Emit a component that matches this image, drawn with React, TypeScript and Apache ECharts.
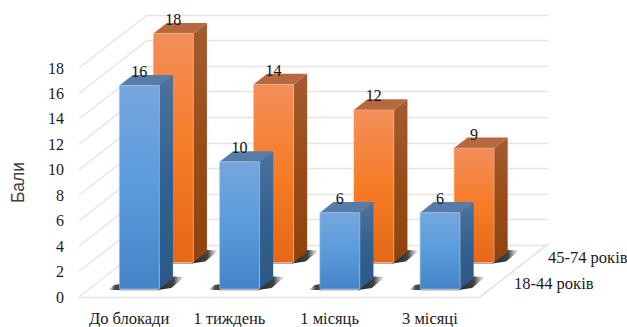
import React, { useEffect, useRef } from "react";
import * as echarts from "echarts";

// Scores by period and age group
const categories = ["До блокади", "1 тиждень", "1 місяць", "3 місяці"];
const groupNames = ["18-44 років", "45-74 років"];
const youngerScores = [16, 10, 6, 6];
const olderScores = [18, 14, 12, 9];
const scoreTicks = [0, 2, 4, 6, 8, 10, 12, 14, 16, 18];
const axisTitle = "Бали";

// Oblique projection: how far the back of the floor sits from its front edge, in pixels
const DEPTH_X = 68;
const DEPTH_Y = 53;
// Bars occupy a fraction of the floor depth; each age group has its own row
const BAR_DEPTH = 0.2;
const ROW_FRONT = [0.15, 0.65];
const BAR_HALF_WIDTH = 20;

const SERIF = "'Liberation Serif', 'Times New Roman', serif";
const GRID_COLOR = "#e4e4e4";

const vgrad = (stops: string[]) =>
  new echarts.graphic.LinearGradient(
    0, 0, 0, 1,
    stops.map((color, i) => ({ offset: i / (stops.length - 1), color }))
  );
const hgrad = (stops: [number, string][]) =>
  new echarts.graphic.LinearGradient(
    0, 0, 1, 0,
    stops.map(([offset, color]) => ({ offset, color }))
  );

const palettes = [
  {
    front: ["#76a7de", "#5a9bdc", "#4484c6"],
    side: ["#4d729e", "#33618f", "#2a5987"],
    top: "#587ca8",
    edge: "rgba(170,205,240,0.55)",
  },
  {
    front: ["#f38e5a", "#f67c26", "#e46817"],
    side: ["#a35c30", "#9a4c17", "#8e430d"],
    top: "#b6683e",
    edge: "rgba(250,190,150,0.5)",
  },
];

const prism = (row: number) => (_params: any, api: any) => {
  const index = api.value(0);
  const value = api.value(1);
  const palette = palettes[row];
  const base = api.coord([index, 0]);
  const peak = api.coord([index, value]);
  const dx = ROW_FRONT[row] * DEPTH_X;
  const dy = ROW_FRONT[row] * DEPTH_Y;
  const bx = BAR_DEPTH * DEPTH_X;
  const by = BAR_DEPTH * DEPTH_Y;
  const left = base[0] + dx - BAR_HALF_WIDTH;
  const right = base[0] + dx + BAR_HALF_WIDTH;
  const bottom = base[1] - dy;
  const top = peak[1] - dy;
  const poly = (points: number[][], fill: any, extra: any = {}) => ({
    type: "polygon",
    shape: { points },
    style: { fill, ...extra },
  });
  return {
    type: "group",
    children: [
      // contact shadows on the floor
      poly(
        [
          [right - 2, bottom + 1],
          [right + 12, bottom - 1],
          [right + 25, bottom - 12],
          [right + bx, bottom - by - 2],
        ],
        hgrad([
          [0, "rgba(35,35,35,1)"],
          [0.6, "rgba(50,50,50,0.92)"],
          [1, "rgba(140,140,140,0.08)"],
        ])
      ),
      poly(
        [[left - 11, bottom + 1], [left + 1, bottom + 1], [left + 1, bottom - 5], [left - 5, bottom - 4]],
        hgrad([
          [0, "rgba(120,120,120,0.1)"],
          [0.5, "rgba(50,50,50,0.85)"],
          [1, "rgba(40,40,40,0.95)"],
        ])
      ),
      poly(
        [[left, bottom], [right, bottom], [right, bottom + 1.5], [left, bottom + 1.5]],
        "rgba(90,90,90,0.5)"
      ),
      poly(
        [[right, bottom], [right, top], [right + bx, top - by], [right + bx, bottom - by]],
        vgrad(palette.side)
      ),
      poly(
        [[left, top], [right, top], [right + bx, top - by], [left + bx, top - by]],
        palette.top
      ),
      poly(
        [[left, bottom], [left, top], [right, top], [right, bottom]],
        vgrad(palette.front),
        { stroke: palette.edge, lineWidth: 1 }
      ),
      {
        type: "text",
        z2: 50,
        style: {
          text: String(value),
          x: (left + right) / 2,
          y: top - 14,
          align: "center",
          verticalAlign: "middle",
          fontFamily: SERIF,
          fontSize: 16,
          fill: "#111",
        },
      },
    ],
  };
};

// Slanted lines on the side wall, one per score tick
const sideLine = (_params: any, api: any) => {
  const start = api.coord([0, api.value(0)]);
  const x = _params.coordSys.x;
  return {
    type: "line",
    shape: { x1: x, y1: start[1], x2: x + DEPTH_X, y2: start[1] - DEPTH_Y },
    style: { stroke: GRID_COLOR, lineWidth: 1.3 },
  };
};

// Right edge of the floor and the row captions beside it
const floorEdge = (_params: any, api: any) => {
  const sys = _params.coordSys;
  const x = sys.x + sys.width;
  const y = sys.y + sys.height;
  const row = api.value(0);
  const mid = ROW_FRONT[row] + BAR_DEPTH / 2;
  return {
    type: "group",
    children: [
      {
        type: "line",
        shape: { x1: x, y1: y, x2: x + DEPTH_X, y2: y - DEPTH_Y },
        style: { stroke: GRID_COLOR, lineWidth: 1.3 },
      },
      {
        type: "text",
        style: {
          text: groupNames[row],
          x: x + mid * DEPTH_X + 17,
          y: y - mid * DEPTH_Y,
          align: "left",
          verticalAlign: "middle",
          fontFamily: SERIF,
          fontSize: 16.5,
          fill: "#1a1a1a",
        },
      },
    ],
  };
};

export default function App() {
  const ref = useRef<HTMLDivElement>(null);

  useEffect(() => {
    const chart = echarts.init(ref.current!, undefined, { renderer: "svg" });
    const front = { left: 79, right: 147, top: 68, bottom: 29 };
    const back = {
      left: 79 + DEPTH_X,
      right: 147 - DEPTH_X,
      top: 68 - DEPTH_Y,
      bottom: 29 + DEPTH_Y,
    };
    const tickMax = scoreTicks[scoreTicks.length - 1];
    const step = scoreTicks[1] - scoreTicks[0];

    chart.setOption({
      animation: false,
      grid: [front, back],
      xAxis: [
        {
          type: "category",
          gridIndex: 0,
          data: categories,
          axisTick: { show: false },
          axisLine: { lineStyle: { color: GRID_COLOR, width: 1.3 } },
          axisLabel: {
            interval: 0,
            hideOverlap: false,
            margin: 13,
            fontFamily: SERIF,
            fontSize: 16.5,
            color: "#1a1a1a",
          },
        },
        {
          type: "category",
          gridIndex: 1,
          data: categories,
          axisTick: { show: false },
          axisLine: { show: false },
          axisLabel: { show: false },
        },
      ],
      yAxis: [
        {
          type: "value",
          gridIndex: 0,
          min: 0,
          max: tickMax,
          interval: step,
          name: axisTitle,
          nameLocation: "middle",
          nameGap: 52,
          nameRotate: 90,
          nameTextStyle: {
            fontFamily: "'Liberation Sans', Arial, sans-serif",
            fontSize: 17.5,
            color: "#404040",
          },
          splitLine: { show: false },
          axisLine: { show: false },
          axisTick: { show: false },
          axisLabel: {
            margin: 15,
            fontFamily: SERIF,
            fontSize: 16,
            color: "#1a1a1a",
          },
        },
        {
          type: "value",
          gridIndex: 1,
          min: 0,
          max: tickMax,
          interval: step,
          axisLine: { show: false },
          axisTick: { show: false },
          axisLabel: { show: false },
          splitLine: { lineStyle: { color: GRID_COLOR, width: 1.3 } },
        },
      ],
      series: [
        {
          type: "custom",
          name: "side wall",
          xAxisIndex: 0,
          yAxisIndex: 0,
          clip: false,
          z: 1,
          data: scoreTicks.map((tick) => [tick]),
          renderItem: sideLine,
          encode: { y: 0 },
        },
        {
          type: "custom",
          name: "floor",
          xAxisIndex: 0,
          yAxisIndex: 0,
          clip: false,
          z: 1,
          data: groupNames.map((_, row) => [row]),
          renderItem: floorEdge,
        },
        {
          type: "custom",
          name: groupNames[1],
          xAxisIndex: 0,
          yAxisIndex: 0,
          clip: false,
          z: 3,
          data: olderScores.map((value, i) => [i, value]),
          renderItem: prism(1),
          encode: { x: 0, y: 1 },
        },
        {
          type: "custom",
          name: groupNames[0],
          xAxisIndex: 0,
          yAxisIndex: 0,
          clip: false,
          z: 4,
          data: youngerScores.map((value, i) => [i, value]),
          renderItem: prism(0),
          encode: { x: 0, y: 1 },
        },
      ],
    });
    return () => chart.dispose();
  }, []);

  return (
    <div
      ref={ref}
      style={{ position: "absolute", left: 0, top: 0, width: 627, height: 327, background: "#fff" }}
    />
  );
}
